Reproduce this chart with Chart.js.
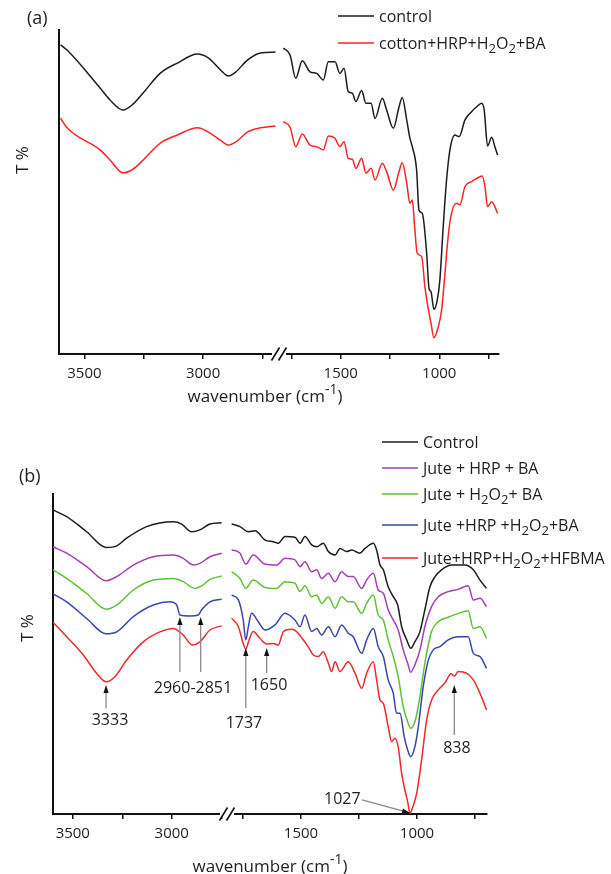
<!DOCTYPE html>
<html>
<head>
<meta charset="utf-8">
<title>FTIR spectra</title>
<script src="https://cdn.jsdelivr.net/npm/chart.js@4.4.1/dist/chart.umd.min.js"></script>
<style>
  html, body { margin: 0; padding: 0; background: #fff; }
  #wrap { position: relative; width: 611px; height: 874px; }
  #wrap canvas { position: absolute; left: 0; top: 0; }
</style>
</head>
<body>
<div id="wrap">
  <canvas id="chartA" width="611" height="874"></canvas>
  <canvas id="chartB" width="611" height="874"></canvas>
</div>
<script>
const FONT = '"Open Sans", "Noto Sans", sans-serif';
const INK = '#1e1e1e';

// Graduations de l'axe coupé
const leftTicks = [3500, 3250, 3000, 2750];
const rightTicks = [1750, 1500, 1250, 1000, 750];

// ---- (a) coton ----
const aNames = ['control', 'cotton+HRP+H₂O₂+BA'];
const aColors = ['#1c1c1c', '#ff2424'];

const aLeftWn = [3600, 3573, 3434, 3392, 3337, 3294, 3252, 3180, 3108, 3024, 2978, 2927, 2893, 2863, 2813, 2758, 2695];
const aCtrlLeft = [95.4, 93.8, 82.1, 78.4, 75.3, 77.2, 80.6, 86.7, 89.8, 92.6, 91.4, 87.7, 85.8, 87.0, 90.7, 92.9, 93.2];
const aCottonLeft = [72.8, 69.8, 63.0, 59.9, 55.9, 57.1, 59.9, 65.1, 67.6, 69.8, 68.5, 66.0, 64.5, 65.4, 68.5, 69.8, 70.4];

const aCtrlRightWn = [1791, 1757, 1728, 1695, 1656, 1622, 1588, 1563, 1529, 1504, 1483, 1462, 1441, 1423, 1394, 1372, 1346, 1326, 1289, 1267,
  1233, 1204, 1188, 1165, 1149, 1137, 1115, 1103, 1086, 1064, 1052, 1042, 1027, 1010, 997, 980, 963, 946, 921, 899,
  870, 836, 810, 785, 772, 755, 734, 718, 704];
const aCtrlRight = [94.4, 92.3, 85.1, 90.5, 87.1, 86.6, 84.6, 90.2, 90.2, 86.6, 88.2, 81.0, 80.5, 77.9, 81.3, 77.4, 77.4, 72.7, 78.9, 75.3,
  69.7, 76.3, 79.2, 72.2, 66.6, 64.0, 56.8, 44.4, 43.4, 31.1, 20.3, 19.2, 13.8, 16.7, 22.8, 39.3, 53.7, 63.0, 67.6, 67.1,
  72.2, 74.8, 76.3, 77.4, 75.3, 64.2, 66.9, 64.0, 61.4];

const aCottonRightWn = [1791, 1757, 1728, 1695, 1656, 1622, 1588, 1563, 1529, 1504, 1483, 1462, 1441, 1423, 1394, 1372, 1346, 1326, 1289, 1267,
  1233, 1204, 1188, 1165, 1149, 1137, 1125, 1112, 1089, 1073, 1052, 1042, 1027, 1005, 988, 971, 955, 938, 912, 895,
  870, 836, 810, 782, 768, 755, 734, 704];
const aCottonRight = [71.7, 70.0, 64.0, 67.9, 64.5, 64.0, 63.0, 67.3, 66.6, 64.0, 65.5, 60.4, 60.1, 57.3, 60.4, 55.8, 57.3, 53.7, 58.9, 56.3,
  50.6, 56.3, 59.0, 52.7, 46.5, 47.5, 39.3, 31.1, 30.0, 20.8, 12.6, 9.5, 5.0, 8.4, 13.6, 24.9, 36.2, 43.4, 46.5, 46.0,
  51.6, 53.2, 54.2, 54.9, 51.6, 45.5, 47.0, 43.4];

// ---- (b) jute ----
const bNames = ['Control', 'Jute + HRP + BA', 'Jute + H₂O₂+ BA', 'Jute +HRP +H₂O₂+BA', 'Jute+HRP+H₂O₂+HFBMA'];
const bColors = ['#1c1c1c', '#a23fb4', '#5cc236', '#3a46ac', '#f2282a'];

const bCtrlLeftWn = [3600, 3531, 3430, 3332, 3278, 3228, 3127, 2992, 2950, 2900, 2858, 2807, 2748];
const bCtrlLeft = [95.0, 92.9, 88.2, 83.3, 83.8, 86.2, 89.8, 91.3, 90.6, 88.2, 88.8, 90.6, 91.0];
const bHrpLeftWn = [3600, 3531, 3430, 3332, 3278, 3194, 3093, 2992, 2942, 2891, 2858, 2807, 2748];
const bHrpLeft = [83.5, 81.5, 77.3, 72.9, 74.2, 77.8, 80.4, 80.9, 79.9, 77.8, 78.3, 80.4, 81.5];
const bH2o2LeftWn = [3600, 3531, 3430, 3332, 3278, 3194, 3093, 2992, 2942, 2883, 2849, 2807, 2748];
const bH2o2Left = [76.3, 73.6, 68.9, 64.0, 65.3, 70.0, 73.1, 73.6, 72.6, 70.5, 71.3, 73.3, 74.4];
const bBaLeftWn = [3600, 3531, 3430, 3332, 3278, 3194, 3093, 3009, 2975, 2959, 2908, 2866, 2849, 2807, 2748];
const bBaLeft = [68.8, 66.3, 61.1, 56.3, 56.9, 61.7, 65.3, 66.3, 65.3, 62.2, 61.9, 62.2, 63.8, 66.3, 67.1];
const bHfbmaLeftWn = [3600, 3531, 3447, 3379, 3332, 3287, 3228, 3144, 3060, 2992, 2942, 2895, 2858, 2807, 2748];
const bHfbmaLeft = [59.9, 55.4, 49.7, 43.9, 41.3, 42.9, 48.1, 53.8, 56.9, 58.0, 55.9, 52.8, 53.8, 57.5, 58.8];

const bCtrlRightWn = [1799, 1763, 1727, 1698, 1655, 1619, 1598, 1569, 1526, 1504, 1483, 1454, 1432, 1404, 1382, 1353, 1332, 1303, 1281, 1246,
  1224, 1188, 1174, 1159, 1145, 1124, 1102, 1083, 1066, 1044, 1027, 1009, 987, 966, 944, 922, 894, 850, 793, 757, 728, 700];
const bCtrlRight = [90.6, 89.8, 88.2, 88.5, 85.6, 85.1, 84.6, 86.7, 86.5, 84.6, 86.7, 84.1, 83.5, 84.6, 82.0, 80.9, 83.0, 82.0, 82.5, 81.5,
  83.0, 84.6, 82.5, 77.8, 76.3, 71.0, 67.9, 65.3, 58.5, 54.4, 51.8, 53.8, 57.0, 63.8, 71.0, 74.2, 76.3, 77.8, 77.8, 76.3, 73.1, 70.5];

const bMidRightWn = [1799, 1763, 1738, 1706, 1655, 1605, 1569, 1526, 1504, 1483, 1454, 1432, 1411, 1382, 1353, 1325, 1296, 1275, 1238, 1217,
  1188, 1167, 1145, 1124, 1102, 1081, 1059, 1040, 1027, 1009, 987, 966, 937, 908, 865, 822, 779, 757, 728, 700];
const bHrpRight = [82.5, 81.5, 78.1, 80.9, 78.1, 77.8, 79.9, 79.4, 77.3, 78.8, 75.7, 76.3, 73.6, 75.2, 72.6, 75.7, 74.2, 74.2, 70.5, 73.1,
  75.2, 70.0, 69.0, 63.8, 60.6, 57.5, 51.3, 47.1, 44.3, 46.6, 51.3, 58.5, 64.8, 67.9, 69.5, 70.2, 71.3, 66.9, 67.4, 64.8];
const bH2o2Right = [75.7, 73.6, 70.5, 73.1, 70.8, 70.5, 72.6, 72.1, 69.5, 71.3, 67.9, 68.4, 65.8, 67.9, 64.3, 67.9, 66.3, 66.3, 62.7, 65.8,
  68.4, 62.2, 60.6, 54.4, 49.2, 42.9, 33.5, 28.8, 26.8, 28.8, 36.7, 47.1, 57.0, 60.1, 61.5, 62.7, 63.5, 58.0, 58.5, 54.9];

const bBaRightWn = [1799, 1770, 1749, 1738, 1727, 1713, 1684, 1655, 1612, 1569, 1526, 1504, 1483, 1454, 1432, 1411, 1382, 1353, 1325, 1296,
  1275, 1238, 1217, 1188, 1167, 1145, 1124, 1102, 1088, 1073, 1055, 1040, 1027, 1009, 994, 973, 951, 930, 901, 865,
  822, 779, 757, 728, 700];
const bBaRight = [68.4, 66.9, 60.6, 54.4, 58.5, 62.7, 60.1, 57.5, 59.1, 62.7, 60.6, 58.5, 62.2, 57.0, 58.0, 55.9, 58.5, 55.4, 59.1, 56.5,
  55.4, 50.2, 54.4, 58.0, 52.3, 49.2, 41.9, 37.7, 31.5, 31.5, 24.2, 20.0, 17.9, 21.0, 27.3, 39.8, 48.1, 51.3, 52.3, 54.4,
  55.4, 55.4, 50.2, 49.2, 45.5];

const bHfbmaRightWn = [1799, 1770, 1749, 1738, 1724, 1706, 1677, 1648, 1619, 1598, 1576, 1540, 1519, 1490, 1469, 1447, 1425, 1404, 1382, 1368,
  1353, 1332, 1296, 1267, 1238, 1217, 1188, 1174, 1159, 1145, 1124, 1109, 1095, 1081, 1066, 1052, 1040, 1030, 1020, 1001,
  980, 958, 937, 908, 879, 853, 839, 822, 786, 757, 728, 700];
const bHfbmaRight = [61.2, 58.5, 53.3, 51.5, 54.4, 57.0, 54.9, 53.1, 53.3, 52.8, 57.0, 57.7, 57.0, 54.4, 52.3, 49.7, 49.2, 50.7, 47.1, 44.5,
  47.6, 44.5, 47.6, 44.0, 39.3, 44.0, 47.6, 41.9, 35.6, 34.6, 27.3, 22.6, 23.7, 21.0, 12.7, 7.5, 3.8, 0.2, 1.8, 6.5,
  16.9, 29.4, 35.6, 38.8, 41.0, 43.8, 43.1, 44.5, 44.0, 41.9, 37.7, 32.5];

// Flèches et repères des bandes (b)
const bArrows = [
  { axis: 'x1', w: 3332, from: 33.0, to: 40.3 },
  { axis: 'x1', w: 2959, from: 44.4, to: 61.6 },
  { axis: 'x1', w: 2854, from: 44.4, to: 61.6 },
  { axis: 'x2', w: 1738, from: 33.1, to: 51.9 },
  { axis: 'x2', w: 1648, from: 44.1, to: 51.9 },
  { axis: 'x2', w: 839, from: 24.7, to: 40.3 },
  { axis: 'x2', w: 1237, from: 4.4, to: 0.3, w2: 1030 }
];
const bBandLabels = [
  { axis: 'x1', w: 3312, t: 29.1, text: '3333', align: 'center' },
  { axis: 'x1', w: 2893, t: 39.1, text: '2960-2851', align: 'center' },
  { axis: 'x2', w: 1746, t: 28.4, text: '1737', align: 'center' },
  { axis: 'x2', w: 1638, t: 40.3, text: '1650', align: 'center' },
  { axis: 'x2', w: 828, t: 20.6, text: '838', align: 'center' },
  { axis: 'x2', w: 1243, t: 4.7, text: '1027', align: 'right' }
];

// Texte avec indices / exposants (₂, ⁻¹)
function drawRich(ctx, str, x, y, size, align) {
  const runs = [];
  for (const ch of str) {
    let kind = 'n', t = ch;
    if (ch === '₂') { kind = 'sub'; t = '2'; }
    else if (ch === '⁻') { kind = 'sup'; t = '-'; }
    else if (ch === '¹') { kind = 'sup'; t = '1'; }
    const last = runs[runs.length - 1];
    if (last && last.kind === kind) last.t += t;
    else runs.push({ kind, t });
  }
  let total = 0;
  runs.forEach(r => {
    r.size = r.kind === 'n' ? size : size * 0.82;
    r.dy = r.kind === 'sub' ? size * 0.28 : r.kind === 'sup' ? -size * 0.5 : 0;
    ctx.font = r.size + 'px ' + FONT;
    r.w = ctx.measureText(r.t).width;
    total += r.w;
  });
  let cx = align === 'center' ? x - total / 2 : align === 'right' ? x - total : x;
  ctx.save();
  ctx.fillStyle = INK;
  ctx.textAlign = 'left';
  ctx.textBaseline = 'alphabetic';
  runs.forEach(r => {
    ctx.font = r.size + 'px ' + FONT;
    ctx.fillText(r.t, cx, y + r.dy);
    cx += r.w;
  });
  ctx.restore();
}

// Coupure de l'axe des abscisses
function drawBreak(chart) {
  const ctx = chart.ctx;
  const bx = chart.scales.x1.right;
  const by = chart.chartArea.bottom;
  ctx.save();
  ctx.fillStyle = '#fff';
  ctx.fillRect(bx - 7, by - 2, 14, 5);
  ctx.strokeStyle = '#111';
  ctx.lineWidth = 1.6;
  [-3.5, 3.5].forEach(d => {
    ctx.beginPath();
    ctx.moveTo(bx + d - 4, by + 6.5);
    ctx.lineTo(bx + d + 4, by - 6.5);
    ctx.stroke();
  });
  ctx.restore();
}

function drawArrows(chart) {
  const ctx = chart.ctx, y = chart.scales.y;
  ctx.save();
  bArrows.forEach(a => {
    const sx = chart.scales[a.axis];
    const x0 = sx.getPixelForValue(a.w), y0 = y.getPixelForValue(a.from);
    const x1 = sx.getPixelForValue(a.w2 || a.w), y1 = y.getPixelForValue(a.to);
    const ang = Math.atan2(y1 - y0, x1 - x0);
    ctx.strokeStyle = '#8a8a8a';
    ctx.lineWidth = 1.3;
    ctx.beginPath();
    ctx.moveTo(x0, y0);
    ctx.lineTo(x1 - 6 * Math.cos(ang), y1 - 6 * Math.sin(ang));
    ctx.stroke();
    ctx.fillStyle = '#111';
    ctx.beginPath();
    ctx.moveTo(x1, y1);
    ctx.lineTo(x1 - 8 * Math.cos(ang) + 2.6 * Math.sin(ang), y1 - 8 * Math.sin(ang) - 2.6 * Math.cos(ang));
    ctx.lineTo(x1 - 8 * Math.cos(ang) - 2.6 * Math.sin(ang), y1 - 8 * Math.sin(ang) + 2.6 * Math.cos(ang));
    ctx.closePath();
    ctx.fill();
  });
  ctx.fillStyle = INK;
  ctx.font = '16px ' + FONT;
  ctx.textBaseline = 'middle';
  bBandLabels.forEach(l => {
    ctx.textAlign = l.align;
    ctx.fillText(l.text, chart.scales[l.axis].getPixelForValue(l.w), y.getPixelForValue(l.t));
  });
  ctx.restore();
}

function panelPlugin(p) {
  return {
    id: 'panel' + p.tag,
    afterDraw(chart) {
      const ctx = chart.ctx;
      drawBreak(chart);
      if (p.arrows) drawArrows(chart);
      p.names.forEach((n, i) => {
        const ly = p.legendY[i];
        ctx.save();
        ctx.strokeStyle = p.colors[i];
        ctx.lineWidth = 1.6;
        ctx.beginPath();
        ctx.moveTo(p.legendX, ly);
        ctx.lineTo(p.legendX + 36, ly);
        ctx.stroke();
        ctx.restore();
        drawRich(ctx, n, p.legendX + 41, ly + 6, 16, 'left');
      });
      drawRich(ctx, p.tag, p.tagX, p.tagY, 18, 'left');
      drawRich(ctx, 'wavenumber (cm⁻¹)', p.titleX, p.titleY, 17, 'center');
      ctx.save();
      ctx.translate(p.yTitleX, p.yTitleY);
      ctx.rotate(-Math.PI / 2);
      drawRich(ctx, 'T %', 0, 6, 17, 'center');
      ctx.restore();
    }
  };
}

function line(label, color, axis, wn, t) {
  return {
    label,
    data: wn.map((w, i) => ({ x: w, y: t[i] })),
    xAxisID: axis,
    yAxisID: 'y',
    borderColor: color,
    borderWidth: 1.5,
    pointRadius: 0,
    cubicInterpolationMode: 'monotone',
    fill: false
  };
}

function xAxis(min, max, weight, ticks) {
  return {
    type: 'linear',
    position: 'bottom',
    stack: 'wn',
    stackWeight: weight,
    reverse: true,
    min, max,
    afterBuildTicks: s => { s.ticks = ticks.map(v => ({ value: v })); },
    afterFit: s => { s.height = 40; },
    grid: { drawOnChartArea: false, drawTicks: true, tickLength: 5, lineWidth: 1.5, tickColor: '#111' },
    border: { display: true, color: '#111', width: 2 },
    ticks: {
      autoSkip: false, maxRotation: 0, padding: 6, color: INK,
      font: { family: FONT, size: 15 },
      callback: v => (v % 500 === 0 ? String(v) : '')
    }
  };
}

function buildChart(id, p) {
  const datasets = [];
  p.series.forEach((s, i) => {
    datasets.push(line(p.names[i], p.colors[i], 'x1', s[0], s[1]));
    datasets.push(line(p.names[i], p.colors[i], 'x2', s[2], s[3]));
  });
  return new Chart(document.getElementById(id), {
    type: 'line',
    data: { datasets },
    options: {
      responsive: false,
      animation: false,
      events: [],
      layout: { padding: p.padding },
      plugins: { legend: { display: false }, tooltip: { enabled: false } },
      scales: {
        x1: xAxis(p.left[0], p.left[1], p.left[2], leftTicks),
        x2: xAxis(p.right[0], p.right[1], p.right[2], rightTicks),
        y: {
          type: 'linear', min: 0, max: 100,
          afterFit: s => { s.width = 0; },
          ticks: { display: false },
          grid: { display: false },
          border: { display: true, color: '#111', width: 2 }
        }
      }
    },
    plugins: [panelPlugin(p)]
  });
}

buildChart('chartA', {
  tag: '(a)', tagX: 27, tagY: 24,
  names: aNames, colors: aColors,
  series: [
    [aLeftWn, aCtrlLeft, aCtrlRightWn, aCtrlRight],
    [aLeftWn, aCottonLeft, aCottonRightWn, aCottonRight]
  ],
  padding: { left: 59, top: 30, right: 112, bottom: 480 },
  left: [2680, 3607, 220],
  right: [697, 1813, 220],
  legendX: 338, legendY: [16, 43],
  titleX: 265, titleY: 402,
  yTitleX: 22, yTitleY: 160
});

buildChart('chartB', {
  tag: '(b)', tagX: 19, tagY: 482,
  names: bNames, colors: bColors,
  series: [
    [bCtrlLeftWn, bCtrlLeft, bCtrlRightWn, bCtrlRight],
    [bHrpLeftWn, bHrpLeft, bMidRightWn, bHrpRight],
    [bH2o2LeftWn, bH2o2Left, bMidRightWn, bH2o2Right],
    [bBaLeftWn, bBaLeft, bBaRightWn, bBaRight],
    [bHfbmaLeftWn, bHfbmaLeft, bHfbmaRightWn, bHfbmaRight]
  ],
  padding: { left: 53, top: 494, right: 124, bottom: 20 },
  left: [2721, 3600, 174],
  right: [698, 1819, 260],
  legendX: 382, legendY: [442, 468, 494, 525, 558],
  titleX: 270, titleY: 872,
  yTitleX: 27, yTitleY: 628,
  arrows: true
});
</script>
</body>
</html>
